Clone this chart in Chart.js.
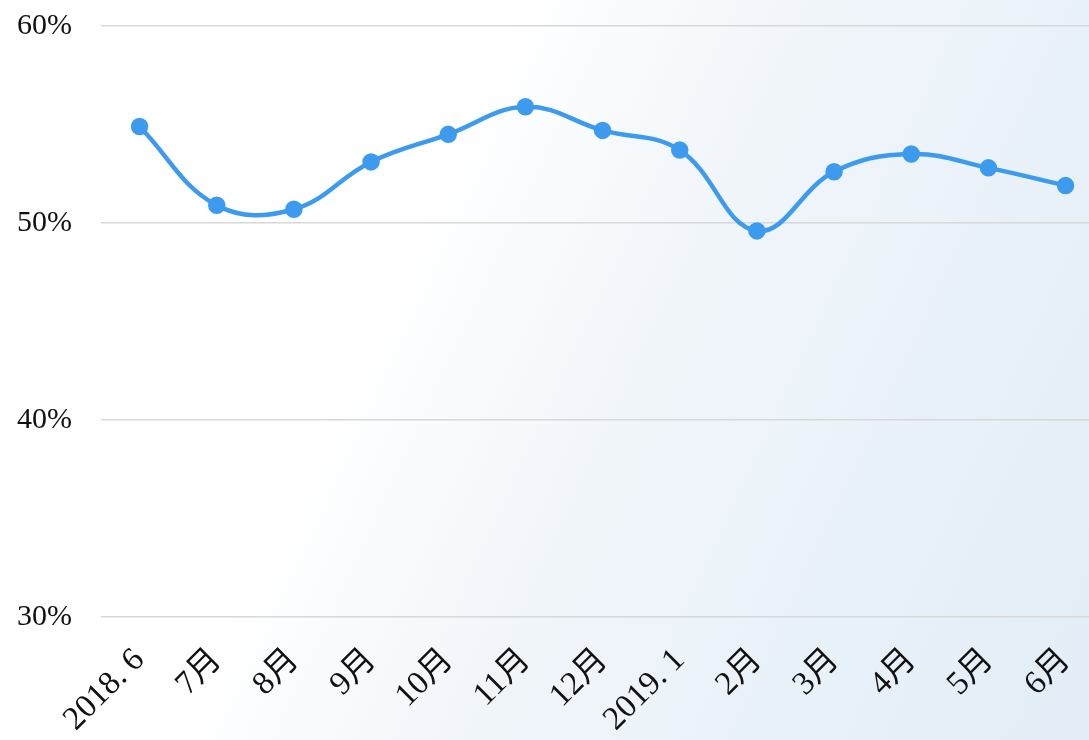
<!DOCTYPE html>
<html>
<head>
<meta charset="utf-8">
<script src="https://cdn.jsdelivr.net/npm/chart.js@4"></script>
<style>
  html, body { margin: 0; padding: 0; overflow: hidden; }
  body {
    width: 1089px; height: 740px;
    background: linear-gradient(115deg, #ffffff 0%, #ffffff 36%, #f0f5fa 58%, #e2edf7 100%);
  }
  #wrap { position: relative; width: 1118px; height: 761px; margin-top: -21px; }
</style>
</head>
<body>
<div id="wrap"><canvas id="rateChart"></canvas></div>
<script>
const months = ["2018. 6", "7月", "8月", "9月", "10月", "11月", "12月", "2019. 1", "2月", "3月", "4月", "5月", "6月"];
const rates = [54.9, 50.9, 50.7, 53.1, 54.5, 55.9, 54.7, 53.7, 49.6, 52.6, 53.5, 52.8, 51.9];
const yTicks = [30, 40, 50, 60];

const serif = "'Liberation Serif', 'Noto Sans CJK SC', serif";

const ctx = document.getElementById("rateChart").getContext("2d");
new Chart(ctx, {
    type: "line",
    data: {
        labels: months,
        datasets: [{
            data: rates,
            borderColor: "#3d9bef",
            backgroundColor: "#3d9bef",
            borderWidth: 4.5,
            pointRadius: 6.5,
            pointHoverRadius: 6.5,
            tension: 0.4,
            fill: false
        }]
    },
    options: {
        responsive: true,
        maintainAspectRatio: false,
        animation: false,
        layout: { padding: { top: 6, right: 0, left: 0, bottom: 0 } },
        plugins: { legend: { display: false }, tooltip: { enabled: false } },
        scales: {
            x: {
                offset: true,
                grid: { display: false, drawTicks: false },
                border: { display: false },
                ticks: {
                    color: "#111",
                    font: { family: serif, size: 33 },
                    minRotation: 45,
                    maxRotation: 45,
                    padding: 24,
                    autoSkip: false
                },
                afterFit: (scale) => { scale.height = 123; }
            },
            y: {
                min: 30,
                max: 60,
                afterBuildTicks: (scale) => { scale.ticks = yTicks.map(v => ({ value: v })); },
                grid: { color: "#d8d8d8", lineWidth: 1.5, drawTicks: false },
                border: { display: false },
                ticks: {
                    color: "#111",
                    font: { family: serif, size: 30 },
                    padding: 29,
                    callback: (v) => v + "%"
                },
                afterFit: (scale) => { scale.width = 101; }
            }
        }
    }
});
</script>
</body>
</html>
